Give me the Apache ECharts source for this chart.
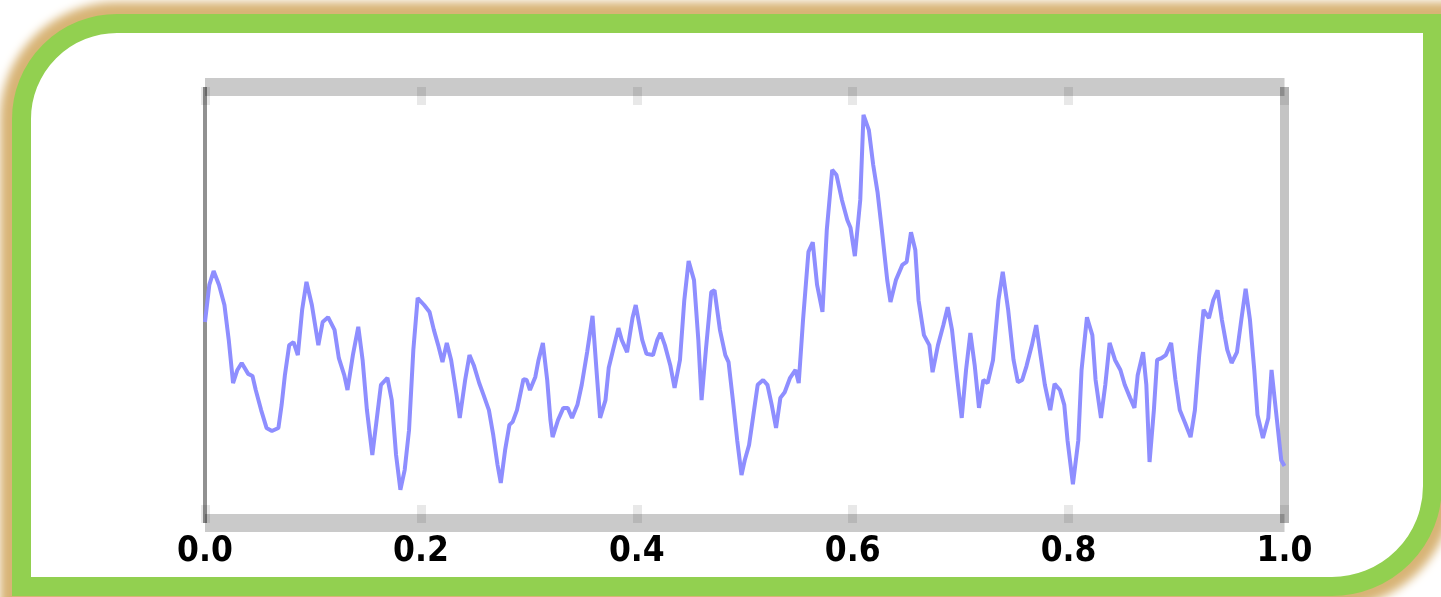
<!DOCTYPE html>
<html>
<head>
<meta charset="utf-8">
<script src="https://cdn.jsdelivr.net/npm/echarts@6/dist/echarts.min.js"></script>
<style>
html,body{margin:0;padding:0;background:#fff;width:1441px;height:597px;overflow:hidden;}
#frame{position:absolute;left:12px;top:14px;width:1430px;height:582px;box-sizing:border-box;border:19px solid #92d050;border-radius:105px 0 110px 0;background:#fff;box-shadow:0 0 10px 12px rgb(216,180,118);}
#chart{position:absolute;left:0;top:0;width:1441px;height:597px;}
</style>
</head>
<body>
<div id="frame"></div>
<div id="chart"></div>
<script>
var xValues = [
0,.004,.008,.013,.018,.022,.026,.030,.034,.040,
.044,.047,.052,.057,.062,.068,.071,.074,.078,.082,
.086,.090,.094,.099,.105,.109,.114,.120,.124,.129,
.132,.137,.142,.146,.150,.155,.159,.163,.169,.173,
.177,.181,.185,.189,.193,.197,.203,.208,.212,.216,
.220,.224,.228,.233,.236,.241,.245,.249,.254,.258,
.263,.267,.271,.274,.278,.282,.285,.289,.295,.298,
.301,.306,.309,.313,.317,.320,.322,.327,.332,.336,
.340,.345,.349,.354,.359,.363,.366,.371,.374,.378,
.383,.386,.391,.396,.399,.405,.409,.415,.419,.422,
.426,.431,.435,.440,.444,.448,.453,.457,.460,.464,
.469,.472,.477,.482,.485,.489,.493,.497,.500,.504,
.508,.512,.517,.521,.525,.529,.533,.537,.542,.547,
.550,.554,.559,.563,.567,.572,.576,.581,.585,.590,
.595,.598,.602,.607,.610,.615,.619,.623,.627,.632,
.635,.640,.646,.650,.654,.658,.661,.666,.671,.674,
.679,.684,.688,.692,.697,.701,.705,.709,.713,.717,
.721,.725,.730,.735,.739,.744,.749,.753,.757,.761,
.766,.770,.774,.778,.783,.787,.792,.796,.799,.804,
.809,.812,.817,.822,.825,.830,.834,.838,.843,.848,
.852,.857,.861,.864,.869,.872,.875,.879,.882,.886,
.890,.895,.899,.903,.908,.913,.917,.921,.925,.930,
.934,.938,.942,.947,.951,.956,.960,.964,.968,.972,
.975,.980,.985,.988,.993,.997,1.0
];
var yValues = [
.461,.546,.578,.546,.500,.420,.321,.351,.367,.342,
.337,.305,.259,.218,.211,.218,.271,.339,.408,.415,
.385,.489,.553,.500,.408,.461,.472,.443,.378,.339,
.305,.385,.450,.374,.259,.156,.236,.317,.333,.282,
.156,.076,.122,.213,.397,.516,.500,.484,.443,.408,
.369,.413,.374,.294,.241,.328,.385,.362,.321,.294,
.259,.202,.133,.092,.167,.225,.232,.259,.330,.328,
.305,.335,.374,.413,.328,.236,.197,.236,.264,.264,
.241,.271,.317,.392,.475,.339,.241,.282,.356,.397,
.447,.420,.392,.470,.500,.420,.388,.385,.420,.436,
.408,.362,.310,.374,.511,.601,.557,.420,.282,.397,
.530,.534,.443,.385,.369,.282,.190,.110,.144,.179,
.248,.317,.328,.317,.271,.218,.287,.300,.333,.351,
.321,.466,.622,.644,.546,.484,.672,.810,.798,.741,
.695,.677,.612,.741,.936,.901,.821,.759,.672,.557,
.507,.557,.592,.599,.667,.626,.511,.431,.408,.346,
.408,.454,.495,.443,.328,.241,.351,.436,.362,.264,
.328,.321,.374,.511,.576,.489,.374,.323,.328,.360,
.408,.454,.385,.317,.259,.319,.305,.271,.190,.089,
.190,.351,.472,.431,.328,.241,.317,.413,.374,.351,
.317,.287,.264,.339,.392,.317,.140,.259,.374,.378,
.385,.413,.328,.259,.229,.197,.259,.385,.489,.470,
.511,.534,.466,.397,.367,.392,.466,.537,.466,.351,
.248,.195,.241,.351,.236,.144,.131
];
var xTickValues = [0, 0.2, 0.4, 0.6, 0.8, 1.0];

var points = xValues.map(function (x, i) { return [x, yValues[i]]; });

var chart = echarts.init(document.getElementById('chart'), null, {renderer: 'canvas'});
var bandLine = {show: true, onZero: false, lineStyle: {color: '#cacaca', width: 18, cap: 'butt'}};
var ticks = {show: true, inside: true, length: 18, lineStyle: {color: 'rgba(0,0,0,0.09)', width: 9, cap: 'butt'}};
chart.setOption({
  animation: false,
  backgroundColor: 'transparent',
  grid: {left: 205, right: 156.5, top: 87, bottom: 74, containLabel: false},
  xAxis: [{
    type: 'value', position: 'bottom', min: 0, max: 1, interval: 0.2,
    axisLine: bandLine, axisTick: ticks, splitLine: {show: false},
    axisLabel: {
      show: true, margin: 11, color: '#000', fontWeight: 'bold',
      fontFamily: "'DejaVu Sans Condensed', 'Liberation Sans Narrow', 'Liberation Sans', sans-serif", fontSize: 35,
      formatter: function (v) { return v.toFixed(1); }
    }
  }, {
    type: 'value', position: 'top', min: 0, max: 1, interval: 0.2,
    axisLine: bandLine, axisTick: ticks, splitLine: {show: false},
    axisLabel: {show: false}
  }],
  yAxis: [{
    type: 'value', position: 'left', min: 0, max: 1, z: 3,
    axisLine: {show: true, onZero: false, lineStyle: {color: 'rgba(0,0,0,0.43)', width: 4, cap: 'butt'}},
    axisTick: {show: false}, axisLabel: {show: false}, splitLine: {show: false}
  }, {
    type: 'value', position: 'right', min: 0, max: 1, z: 3,
    axisLine: {show: true, onZero: false, lineStyle: {color: 'rgba(0,0,0,0.23)', width: 9, cap: 'butt'}},
    axisTick: {show: false}, axisLabel: {show: false}, splitLine: {show: false}
  }],
  series: [{
    type: 'line', data: points, xAxisIndex: 0, yAxisIndex: 0,
    showSymbol: false, symbol: 'none', smooth: false,
    lineStyle: {color: '#8e8eff', width: 4}
  }]
});
</script>
</body>
</html>
